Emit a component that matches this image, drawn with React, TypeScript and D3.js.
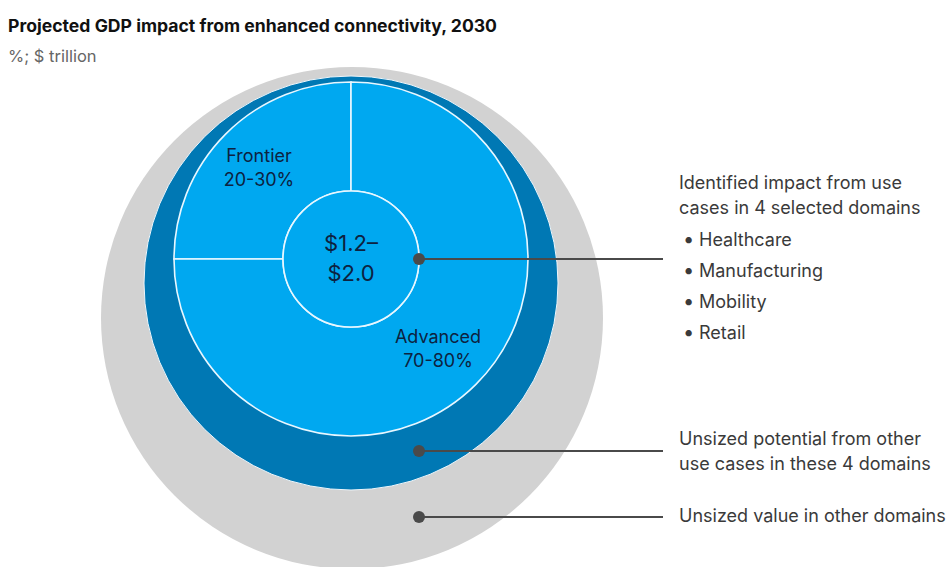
import * as d3 from 'd3';

// segment shares of the sized impact (midpoints of the published ranges)
const segmentNames = ['Frontier', 'Advanced'];
const segmentRanges = ['20-30%', '70-80%'];
const segmentShares = [25, 75];

const centerLines = ['$1.2–', '$2.0'];

const identifiedLines = ['Identified impact from use', 'cases in 4 selected domains'];
const domains = ['Healthcare', 'Manufacturing', 'Mobility', 'Retail'];
const unsizedPotentialLines = ['Unsized potential from other', 'use cases in these 4 domains'];
const unsizedValueLines = ['Unsized value in other domains'];

const title = 'Projected GDP impact from enhanced connectivity, 2030';
const subtitle = '%; $ trillion';

const W = 948;
const H = 567;
const FONT = 'Inter, "Liberation Sans", Arial, sans-serif';

const LIGHT = '#00a8f0';
const DARK = '#0078b4';
const GREY = '#d2d2d2';
const INK = '#0d2240';

export default function App() {
  // circle geometry
  const core = { x: 351, y: 259 };
  const rInner = 68;
  const rLight = 177;
  const ring = { x: 351, y: 283, r: 207 };
  const outer = { x: 352, y: 318, r: 251 };

  const pie = d3
    .pie<number>()
    .sort(null)
    .startAngle(-Math.PI / 2)
    .endAngle((3 * Math.PI) / 2);
  const arcs = pie(segmentShares);
  const arc = d3.arc<d3.PieArcDatum<number>>().innerRadius(rInner).outerRadius(rLight);

  // label placement for the two segments
  const labelPos = [
    { x: 259, y: 162 },
    { x: 438, y: 343 },
  ];

  const leaderX0 = 419;
  const leaderX1 = 663;
  const textX = 679;
  const leaders = [core.y, 451, 517];

  return (
    <svg
      width={W}
      height={H}
      style={{ position: 'absolute', left: 0, top: 0, background: '#fff' }}
      fontFamily={FONT}
    >
      <text x={8} y={32} fontSize={17} fontWeight="bold" fill="#111" textLength={489} lengthAdjust="spacingAndGlyphs">
        {title}
      </text>
      <text x={8} y={62} fontSize={16.5} fill="#666">
        {subtitle}
      </text>

      <circle cx={outer.x} cy={outer.y} r={outer.r} fill={GREY} />
      <circle cx={ring.x} cy={ring.y} r={ring.r} fill={DARK} stroke="#eef6fb" strokeWidth={1} />

      <g transform={`translate(${core.x},${core.y})`}>
        {arcs.map((a, i) => (
          <path key={i} d={arc(a) ?? ''} fill={LIGHT} stroke="#e8f7ff" strokeWidth={1.6} />
        ))}
        <circle r={rInner} fill={LIGHT} stroke="#e8f7ff" strokeWidth={1.6} />
        {centerLines.map((t, i) => (
          <text key={i} x={0} y={-8 + i * 30} textAnchor="middle" fontSize={22} fill={INK}>
            {t}
          </text>
        ))}
      </g>

      {segmentNames.map((n, i) => (
        <text key={n} x={labelPos[i].x} y={labelPos[i].y} textAnchor="middle" fontSize={18} fill={INK}>
          <tspan x={labelPos[i].x}>{n}</tspan>
          <tspan x={labelPos[i].x} dy={24}>
            {segmentRanges[i]}
          </tspan>
        </text>
      ))}

      {leaders.map((y, i) => (
        <g key={i}>
          <line x1={leaderX0} x2={leaderX1} y1={y} y2={y} stroke="#4a4a4a" strokeWidth={2} />
          <circle cx={leaderX0} cy={y} r={6} fill="#4a4a4a" />
        </g>
      ))}

      <g fontSize={18} fill="#3a3a3a">
        {identifiedLines.map((t, i) => (
          <text key={t} x={textX} y={189 + i * 25}>
            {t}
          </text>
        ))}
        {domains.map((t, i) => (
          <g key={t}>
            <text x={683} y={246 + i * 31} fontSize={20}>
              •
            </text>
            <text x={699} y={246 + i * 31}>
              {t}
            </text>
          </g>
        ))}
        {unsizedPotentialLines.map((t, i) => (
          <text key={t} x={textX} y={445 + i * 25}>
            {t}
          </text>
        ))}
        {unsizedValueLines.map((t) => (
          <text key={t} x={textX} y={522}>
            {t}
          </text>
        ))}
      </g>
    </svg>
  );
}
